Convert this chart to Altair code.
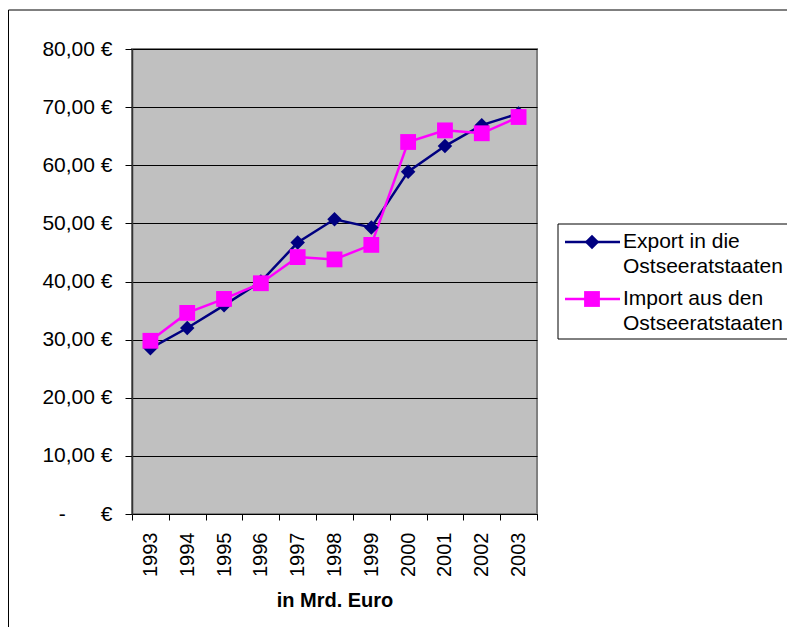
import altair as alt
import pandas as pd

years = ["1993", "1994", "1995", "1996", "1997", "1998", "1999", "2000", "2001", "2002", "2003"]
export_vals = [28.5, 32.0, 35.9, 40.0, 46.7, 50.7, 49.3, 58.9, 63.3, 66.9, 68.9]
import_vals = [29.8, 34.6, 37.0, 39.7, 44.2, 43.8, 46.3, 64.0, 66.0, 65.5, 68.3]
series = ["Export in die Ostseeratstaaten", "Import aus den Ostseeratstaaten"]
legend_lines = [["Export in die", "Ostseeratstaaten"], ["Import aus den", "Ostseeratstaaten"]]
colors = ["#000080", "#FF00FF"]
shapes = ["diamond", "square"]
sizes = [210, 250]
y_ticks = [0, 10, 20, 30, 40, 50, 60, 70, 80]
x_title = "in Mrd. Euro"

rows = []
for s, vals in zip(series, [export_vals, import_vals]):
    for y, v in zip(years, vals):
        rows.append({"Jahr": y, "Wert": v, "Serie": s})
df = pd.DataFrame(rows)

FONT = "Liberation Sans"

x_enc = alt.X(
    "Jahr:O",
    sort=years,
    bandPosition=0.5,
    scale=alt.Scale(type="band", paddingInner=0, paddingOuter=0),
    axis=alt.Axis(
        title=x_title,
        tickBand="extent",
        labelAngle=270,
        labelFontSize=20,
        labelPadding=12,
        tickSize=6,
        tickColor="#000000",
        domainColor="#000000",
        titleFontSize=20,
        titleFontWeight="bold",
        titlePadding=14,
        labelColor="#000000",
        titleColor="#000000",
        grid=False,
    ),
)
y_enc = alt.Y(
    "Wert:Q",
    scale=alt.Scale(domain=[0, 80], nice=False),
    axis=alt.Axis(
        title=None,
        values=y_ticks,
        labelExpr="datum.value == 0 ? '-\u00a0\u00a0\u00a0\u00a0\u00a0\u00a0€' : replace(format(datum.value, '.2f'), '.', ',') + ' €'",
        labelFontSize=21,
        labelPadding=13,
        tickSize=7,
        tickColor="#000000",
        domainColor="#333333",
        domainWidth=1.5,
        grid=True,
        gridColor="#000000",
        gridWidth=1,
        labelColor="#000000",
    ),
)
color_enc = alt.Color("Serie:N", scale=alt.Scale(domain=series, range=colors), legend=None)

base = alt.Chart(df)
lines = base.mark_line(strokeWidth=2.5).encode(x=x_enc, y=y_enc, color=color_enc)
points = base.mark_point(filled=True, opacity=1).encode(
    x=x_enc,
    y=y_enc,
    color=color_enc,
    shape=alt.Shape("Serie:N", scale=alt.Scale(domain=series, range=shapes), legend=None),
    size=alt.Size("Serie:N", scale=alt.Scale(domain=series, range=sizes), legend=None),
)

# outer frame (only left and top visible in the reference)
frame_df = pd.DataFrame({"k": [0]})
frame_left = alt.Chart(frame_df).mark_rule(color="#000000", strokeWidth=1).encode(
    x=alt.value(-123.5), y=alt.value(-39), y2=alt.value(700)
)
frame_top = alt.Chart(frame_df).mark_rule(color="#000000", strokeWidth=1).encode(
    x=alt.value(-123.5), x2=alt.value(800), y=alt.value(-39)
)

# legend
leg_box = alt.Chart(frame_df).mark_rect(fill="#FFFFFF", stroke="#000000", strokeWidth=1).encode(
    x=alt.value(426), x2=alt.value(800), y=alt.value(175), y2=alt.value(290)
)
legend_layers = [leg_box]
for i, (s, c, sh, sz, lab) in enumerate(zip(series, colors, shapes, sizes, legend_lines)):
    ldf = pd.DataFrame({"Serie": [s], "label": [lab]})
    yy = 193 + i * 57
    legend_layers.append(
        alt.Chart(ldf).mark_rule(color=c, strokeWidth=2.5).encode(
            x=alt.value(433), x2=alt.value(488), y=alt.value(yy)
        )
    )
    legend_layers.append(
        alt.Chart(ldf).mark_point(filled=True, opacity=1, color=c, shape=sh, size=sz).encode(
            x=alt.value(460), y=alt.value(yy)
        )
    )
    legend_layers.append(
        alt.Chart(ldf).mark_text(
            align="left", baseline="alphabetic", fontSize=21, lineHeight=25, color="#000000", font=FONT
        ).encode(x=alt.value(491), y=alt.value(yy + 6), text="label")
    )

chart = alt.layer(frame_left, frame_top, lines, points, *legend_layers).properties(
    width=405,
    height=465,
    autosize=alt.AutoSizeParams(type="none"),
    padding={"left": 124, "top": 41, "right": 250, "bottom": 113},
    background="#FFFFFF",
).configure(
    font=FONT
).configure_view(
    fill="#C0C0C0", stroke="#808080", strokeWidth=2
)

chart.save("out.html", embed_options={"renderer": "svg", "actions": False})
